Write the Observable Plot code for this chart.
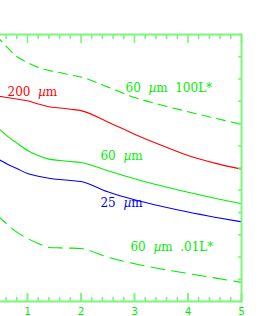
<!DOCTYPE html>
<html><head><meta charset="utf-8">
<script src="https://cdn.jsdelivr.net/npm/d3@7"></script>
<script src="https://cdn.jsdelivr.net/npm/@observablehq/plot@0.6"></script>
<style>
body{margin:0;background:#fff;overflow:hidden}
svg{display:block}
svg text{white-space:pre}
</style>
</head><body><div id="chart"></div>
<script>
// sample abscissae (x axis, 0..5)
const xs = [0.4,0.5,0.6,0.8,1.0,1.2,1.4,1.6,1.8,2.0,2.5,3.0,3.5,4.0,4.5,5.0];
// series values (arbitrary vertical units, 0..12)
const upper100L = [11.96,11.73,11.48,11.01,10.74,10.52,10.38,10.29,10.18,10.09,9.64,9.17,8.83,8.53,8.24,7.96];
const red200    = [9.26,9.21,9.17,9.10,9.02,8.88,8.75,8.70,8.64,8.58,8.07,7.52,7.02,6.56,6.22,5.95];
const green60   = [7.87,7.69,7.48,7.12,6.79,6.56,6.40,6.34,6.29,6.25,5.88,5.52,5.20,4.91,4.64,4.39];
const blue25    = [6.45,6.34,6.20,5.98,5.75,5.63,5.54,5.48,5.44,5.39,4.93,4.57,4.28,4.02,3.79,3.58];
const lower01L  = [3.91,3.73,3.51,3.12,2.83,2.61,2.43,2.41,2.40,2.38,1.99,1.70,1.46,1.26,1.06,0.86];
// tick values
const majorTicks = [0,1,2,3,4,5];
const labeledTicks = [1,2,3,4,5];
const minorTicks = [0.2,0.4,0.6,0.8,1.2,1.4,1.6,1.8,2.2,2.4,2.6,2.8,3.2,3.4,3.6,3.8,4.2,4.4,4.6,4.8];
const yTicks = [0,1,2,3,4,5,6,7,8,9,10,11,12];
// curve labels (text, anchor point in data units)
const labelText = ["200  µm", "60  µm  100L*", "60  µm", "25  µm", "60  µm  .01L*"];
const labelX = [0.626, 2.832, 2.364, 2.364, 2.925];
const labelY = [9.43, 9.61, 6.51, 4.40, 2.46];

const series = (ys) => xs.map((x, i) => ({x, y: ys[i]}));
const label = (i) => [{x: labelX[i], y: labelY[i], t: labelText[i]}];

const AX = "#78f878";
const GREEN = "#00ee00";
const RED = "#ff0000";
const BLUE = "#0000ff";
const LF = "DejaVu Serif";

const txt = (i, color) => Plot.text(label(i), {x: "x", y: "y", text: "t", fill: color, textAnchor: "start", lineAnchor: "middle", fontSize: 12, fontFamily: LF});
const ln = (ys, color, dash) => Plot.line(series(ys), {x: "x", y: "y", stroke: color, strokeWidth: 1.1, curve: "monotone-x", strokeDasharray: dash});

const chart = Plot.plot({
  width: 274, height: 316,
  marginLeft: -26.5, marginRight: 33, marginTop: 34, marginBottom: 15,
  x: {domain: [0, 5], axis: null, label: null},
  y: {domain: [0, 12], axis: null, label: null},
  style: {background: "white"},
  marks: [
    ln(upper100L, GREEN, "9,6"),
    ln(red200, RED),
    ln(green60, GREEN),
    ln(blue25, BLUE),
    ln(lower01L, GREEN, "14,7"),
    txt(0, RED), txt(1, GREEN), txt(2, GREEN), txt(3, BLUE), txt(4, GREEN),
    Plot.axisX(labeledTicks, {anchor: "bottom", tickSize: -8, tickPadding: 13.6, stroke: AX, strokeWidth: 1.6, fill: GREEN, fontSize: 10.5, fontFamily: "DejaVu Sans", label: null}),
    Plot.axisX(majorTicks, {anchor: "bottom", tickSize: -8, tickFormat: () => "", stroke: AX, strokeWidth: 1.6, label: null}),
    Plot.axisX(minorTicks, {anchor: "bottom", tickSize: -4, tickFormat: () => "", stroke: AX, strokeWidth: 1.6, label: null}),
    Plot.axisX(majorTicks, {anchor: "top", tickSize: -8, tickFormat: () => "", stroke: AX, strokeWidth: 1.6, label: null}),
    Plot.axisX(minorTicks, {anchor: "top", tickSize: -4, tickFormat: () => "", stroke: AX, strokeWidth: 1.6, label: null}),
    Plot.axisY(yTicks, {anchor: "right", tickSize: -4, tickFormat: () => "", stroke: AX, strokeWidth: 1.6, label: null}),
    Plot.frame({stroke: AX, strokeWidth: 2})
  ]
});

// italicise the greek mu in the curve labels
chart.querySelectorAll("text").forEach(t => {
  const s = t.textContent;
  if (!s.includes("µ") || t.querySelector("tspan")) return;
  t.textContent = "";
  const parts = s.split("µ");
  parts.forEach((p, i) => {
    if (i > 0) {
      const ts = document.createElementNS("http://www.w3.org/2000/svg", "tspan");
      ts.setAttribute("font-style", "italic");
      ts.textContent = "µ";
      t.appendChild(ts);
    }
    if (p) t.appendChild(document.createTextNode(p));
  });
});

document.getElementById("chart").appendChild(chart);
</script>
</body></html>
